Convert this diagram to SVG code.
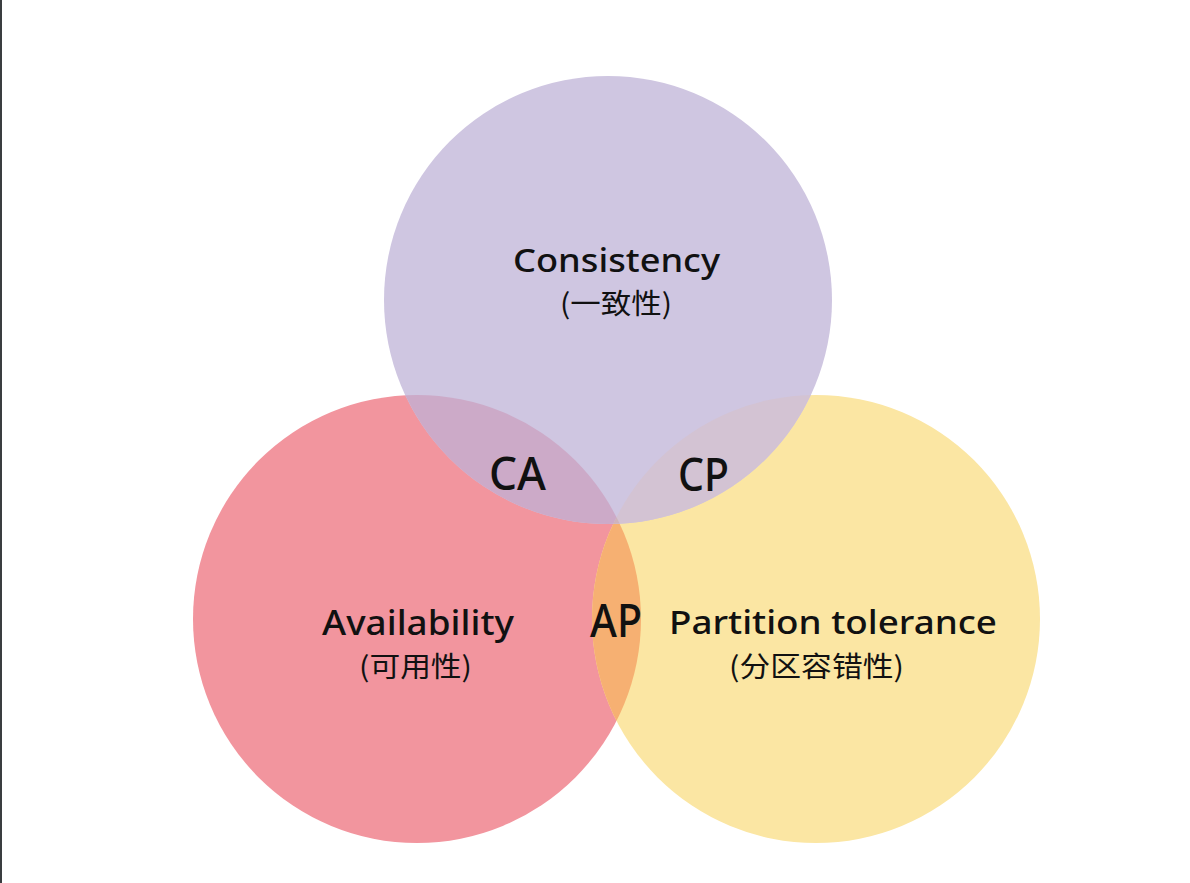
<svg xmlns="http://www.w3.org/2000/svg" width="1190" height="883" viewBox="0 0 1190 883">
  <style>
    .lbl { font-family: "Noto Sans", "Noto Sans CJK SC", sans-serif; fill: #111; font-weight: 500; }
    .zh { font-family: "Noto Sans CJK SC", "Noto Sans", sans-serif; fill: #111; font-weight: 400; }
    .big { font-family: "Noto Sans", "Noto Sans CJK SC", sans-serif; fill: #111; font-weight: 500; font-size: 46px; }
  </style>
  <defs>
    <clipPath id="clipRed"><circle cx="417" cy="619" r="224"/></clipPath>
    <clipPath id="clipYellow"><circle cx="816" cy="619" r="224"/></clipPath>
  </defs>
  <rect x="0" y="0" width="1190" height="883" fill="#ffffff"/>
  <rect x="0" y="0" width="2" height="883" fill="#3a3d40"/>

  <g id="availability">
    <circle cx="417" cy="619" r="224" fill="#F2959E"/>
  </g>
  <g id="partition-tolerance">
    <circle cx="816" cy="619" r="224" fill="#FBE6A3"/>
  </g>
  <g id="ap-overlap">
    <circle cx="816" cy="619" r="224" fill="#F6B072" clip-path="url(#clipRed)"/>
  </g>
  <g id="consistency">
    <circle cx="608" cy="300" r="224" fill="#CFC6E1"/>
  </g>
  <g id="ca-overlap">
    <circle cx="608" cy="300" r="224" fill="#CCAAC8" clip-path="url(#clipRed)"/>
  </g>
  <g id="cp-overlap">
    <circle cx="608" cy="300" r="224" fill="#D3C3D3" clip-path="url(#clipYellow)"/>
  </g>
  <g id="cap-overlap" clip-path="url(#clipYellow)">
    <circle cx="608" cy="300" r="224" fill="#CFB3BC" clip-path="url(#clipRed)"/>
  </g>

  <g id="labels">
    <text class="lbl" x="513" y="272" font-size="33" textLength="207" lengthAdjust="spacingAndGlyphs">Consistency</text>
    <text class="zh" x="560" y="314" font-size="28" textLength="112" lengthAdjust="spacingAndGlyphs">(一致性)</text>
    <text class="lbl" x="322" y="635" font-size="34" textLength="192" lengthAdjust="spacingAndGlyphs">Availability</text>
    <text class="zh" x="359" y="677" font-size="28" textLength="113" lengthAdjust="spacingAndGlyphs">(可用性)</text>
    <text class="lbl" x="669" y="634" font-size="33" textLength="328" lengthAdjust="spacingAndGlyphs">Partition tolerance</text>
    <text class="zh" x="729" y="677" font-size="28" textLength="175" lengthAdjust="spacingAndGlyphs">(分区容错性)</text>
    <text class="big" x="489" y="490" textLength="57" lengthAdjust="spacingAndGlyphs">CA</text>
    <text class="big" x="678" y="491" textLength="51" lengthAdjust="spacingAndGlyphs">CP</text>
    <text class="big" x="590" y="637" textLength="52" lengthAdjust="spacingAndGlyphs">AP</text>
  </g>
</svg>
